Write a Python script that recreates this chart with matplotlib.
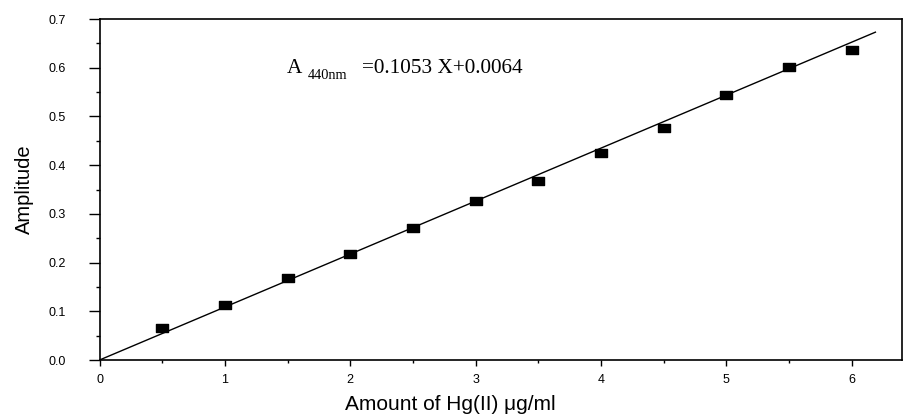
import matplotlib
matplotlib.use("Agg")
import matplotlib.pyplot as plt
from matplotlib.ticker import MultipleLocator, FormatStrFormatter
from matplotlib.path import Path

# Data
conc = [0.5, 1.0, 1.5, 2.0, 2.5, 3.0, 3.5, 4.0, 4.5, 5.0, 5.5, 6.0]
amplitude = [0.066, 0.113, 0.169, 0.218, 0.270, 0.327, 0.367, 0.424, 0.476, 0.545, 0.601, 0.636]
fit_x = [0.0, 6.19]
fit_y = [0.0, 0.673]
x_ticks = [0, 1, 2, 3, 4, 5, 6]
y_ticks = [0.0, 0.1, 0.2, 0.3, 0.4, 0.5, 0.6, 0.7]

plt.rcParams['font.family'] = ['Liberation Sans', 'DejaVu Sans']

fig = plt.figure(figsize=(9.09, 4.16), dpi=100)
ax = fig.add_axes([0.1095, 0.1346, 0.8825, 0.8197])

rect = Path([(-1, -0.65), (1, -0.65), (1, 0.65), (-1, 0.65), (-1, -0.65)],
            [Path.MOVETO, Path.LINETO, Path.LINETO, Path.LINETO, Path.CLOSEPOLY])

ax.plot(fit_x, fit_y, color='black', lw=1.0, zorder=2)
ax.plot(conc, amplitude, linestyle='none', marker=rect, markersize=8,
        color='black', zorder=3)

ax.set_xlim(0, 6.4)
ax.set_ylim(0, 0.7)
ax.set_xticks(x_ticks)
ax.set_yticks(y_ticks)
ax.xaxis.set_minor_locator(MultipleLocator(0.5))
ax.yaxis.set_minor_locator(MultipleLocator(0.05))
ax.yaxis.set_major_formatter(FormatStrFormatter('%.1f'))

ax.tick_params(axis='x', which='major', direction='out', length=4, width=1, pad=6, labelsize=9)
ax.tick_params(axis='x', which='minor', direction='out', length=2.5, width=1)
ax.tick_params(axis='y', which='major', direction='out', length=8, width=1, pad=16, labelsize=9)
ax.tick_params(axis='y', which='minor', direction='out', length=3, width=1)

for s in ax.spines.values():
    s.set_linewidth(1.2)

ax.set_xlabel('Amount of Hg(II) μg/ml', fontsize=15)
ax.xaxis.set_label_coords(0.437, -0.103)
ax.set_ylabel('Amplitude', fontsize=14.5, labelpad=11)

serif = ['Liberation Serif', 'DejaVu Serif']
ax.text(1.495, 0.5885, 'A', family=serif, fontsize=15.3, ha='left', va='baseline')
ax.text(1.663, 0.5764, '440nm', family=serif, fontsize=10.4, ha='left', va='baseline')
ax.text(2.093, 0.5885, '=0.1053 X+0.0064', family=serif, fontsize=15.3, ha='left', va='baseline')

fig.savefig('out.png', dpi=100)
